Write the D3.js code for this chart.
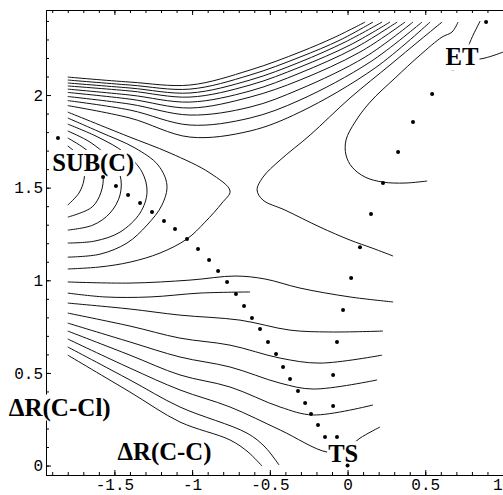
<!DOCTYPE html>
<html><head><meta charset="utf-8">
<script src="https://cdn.jsdelivr.net/npm/d3@7"></script>
<style>html,body{margin:0;padding:0;background:#fff;} svg{display:block;}</style>
</head><body>
<svg id="c" width="503" height="495"></svg>
<script>
// ---------- axis ticks ----------
const xTicks = [-1.5, -1, -0.5, 0, 0.5, 1];
const xTickLabels = ["-1.5", "-1", "-0.5", "0", "0.5", "1"];
const yTicks = [0, 0.5, 1, 1.5, 2];
const yTickLabels = ["0", "0.5", "1", "1.5", "2"];

// ---------- reaction path points ----------
const pathToSub = [[-1.863,1.768],[-1.573,1.557],[-1.490,1.509],[-1.412,1.460],[-1.335,1.417],[-1.258,1.368],[-1.181,1.320],[-1.110,1.277],[-1.033,1.223],[-0.962,1.169],[-0.891,1.109],[-0.833,1.050],[-0.775,0.991],[-0.718,0.926],[-0.666,0.861],[-0.615,0.796],[-0.563,0.737],[-0.512,0.667],[-0.460,0.602],[-0.415,0.532],[-0.370,0.467],[-0.319,0.402],[-0.273,0.337],[-0.235,0.278],[-0.190,0.219],[-0.145,0.154]];
const pathToEt = [[-0.068,0.154],[-0.093,0.321],[-0.093,0.489],[-0.068,0.667],[-0.029,0.839],[0.023,1.012],[0.080,1.179],[0.151,1.358],[0.228,1.525],[0.325,1.692],[0.421,1.854],[0.544,2.005],[0.891,2.394]];
const tsPoint = [[0, 0]];

// ---------- contour lines ----------
const contoursUpper = [
 [[-1.80,2.097],[-1.40,2.070],[-1.014,2.054],[-0.627,2.135],[-0.306,2.232],[-0.080,2.313],[0.113,2.394]],
 [[-1.80,2.081],[-1.40,2.054],[-1.014,2.032],[-0.627,2.108],[-0.306,2.205],[-0.048,2.297],[0.164,2.394]],
 [[-1.80,2.065],[-1.40,2.038],[-1.014,2.011],[-0.627,2.081],[-0.306,2.178],[-0.016,2.286],[0.222,2.394]],
 [[-1.80,2.049],[-1.40,2.022],[-1.014,1.989],[-0.627,2.054],[-0.306,2.151],[0.016,2.270],[0.273,2.394]],
 [[-1.80,2.032],[-1.40,2.000],[-1.014,1.962],[-0.627,2.022],[-0.306,2.119],[0.048,2.254],[0.319,2.394]],
 [[-1.80,2.014],[-1.40,1.978],[-1.014,1.930],[-0.627,1.989],[-0.306,2.081],[0.080,2.232],[0.370,2.394]],
 [[-1.80,1.992],[-1.40,1.951],[-1.014,1.892],[-0.627,1.935],[-0.306,2.032],[0.113,2.205],[0.421,2.394]],
 [[-1.80,1.970],[-1.40,1.919],[-1.014,1.838],[-0.627,1.876],[-0.306,1.973],[0.145,2.178],[0.479,2.394]],
 [[-1.80,1.943],[-1.40,1.876],[-1.014,1.773],[-0.627,1.806],[-0.306,1.908],[0.177,2.146],[0.531,2.394]]
];
const saddleLeft = [[-1.80,1.908],[-1.419,1.779],[-1.142,1.687],[-0.885,1.579],[-0.756,1.482],[-0.808,1.417],[-0.917,1.314],[-1.033,1.223],[-1.207,1.147],[-1.400,1.098],[-1.593,1.072],[-1.80,1.061]];
const saddleRight = [[0.608,2.394],[0.467,2.297],[0.273,2.162],[0.016,1.984],[-0.241,1.784],[-0.434,1.649],[-0.544,1.557],[-0.582,1.487],[-0.544,1.433],[-0.402,1.379],[-0.177,1.287],[0.016,1.217],[0.158,1.174],[0.293,1.131]];
const etBasin = [[0.711,2.394],[0.672,2.340],[0.608,2.313],[0.467,2.216],[0.306,2.092],[0.145,1.962],[0.048,1.854],[-0.010,1.757],[-0.010,1.676],[0.029,1.611],[0.113,1.557],[0.228,1.530],[0.370,1.525],[0.512,1.536]];
const etFragments = [
 [[0.853,2.399],[0.788,2.286],[0.769,2.227],[0.827,2.194],[1.0,2.232]],
 [[0.640,2.140],[0.685,2.135]]
];
const subArcs = [
 [[-1.80,1.725],[-1.734,1.676],[-1.696,1.611],[-1.696,1.541],[-1.728,1.471],[-1.80,1.406]],
 [[-1.80,1.768],[-1.696,1.714],[-1.612,1.649],[-1.573,1.568],[-1.586,1.476],[-1.644,1.395],[-1.80,1.341]],
 [[-1.80,1.806],[-1.657,1.746],[-1.541,1.665],[-1.464,1.568],[-1.464,1.460],[-1.528,1.363],[-1.638,1.298],[-1.80,1.271]],
 [[-1.80,1.843],[-1.606,1.773],[-1.432,1.687],[-1.322,1.584],[-1.290,1.476],[-1.335,1.363],[-1.464,1.260],[-1.625,1.212],[-1.80,1.201]],
 [[-1.80,1.876],[-1.593,1.800],[-1.367,1.714],[-1.219,1.622],[-1.162,1.514],[-1.194,1.406],[-1.290,1.298],[-1.419,1.201],[-1.593,1.141],[-1.80,1.125]]
];
const midLines = [
 [[-1.80,0.991],[-1.40,0.985],[-1.014,1.001],[-0.724,1.023],[-0.531,1.007],[-0.306,0.958],[0.016,0.910],[0.293,0.883]],
 [[-1.80,0.931],[-1.560,0.910],[-1.271,0.910],[-0.949,0.931],[-0.627,0.937]]
];
const lowerLines = [
 [[-1.80,0.877],[-1.40,0.845],[-1.078,0.812],[-0.692,0.785],[-0.370,0.731],[-0.113,0.721],[0.228,0.726]],
 [[-1.80,0.823],[-1.40,0.753],[-1.078,0.688],[-0.756,0.650],[-0.434,0.580],[-0.177,0.553],[0.222,0.596]],
 [[-1.80,0.769],[-1.40,0.667],[-1.078,0.586],[-0.756,0.532],[-0.434,0.445],[-0.222,0.413],[0.190,0.462]],
 [[-1.80,0.726],[-1.40,0.596],[-1.078,0.489],[-0.756,0.424],[-0.434,0.316],[-0.222,0.273],[0.164,0.327]],
 [[-1.80,0.683],[-1.40,0.526],[-1.078,0.408],[-0.756,0.316],[-0.434,0.192],[-0.132,0.073],[-0.016,0.084],[0.080,0.148],[0.209,0.208]],
 [[-1.80,0.640],[-1.40,0.462],[-1.078,0.316],[-0.647,0.175],[-0.531,0.100],[-0.441,0.003]],
 [[-1.80,0.596],[-1.40,0.397],[-1.078,0.235],[-0.756,0.138],[-0.640,0.073],[-0.550,-0.003]]
];

// ---------- labels ----------
const labelTexts = ["SUB(C)", "ET", "TS", "ΔR(C-Cl)", "ΔR(C-C)"];
const labelAnchors = [[-1.90, 1.59], [0.63, 2.16], [-0.125, 0.018], [-2.18, 0.27], [-1.48, 0.03]];
const labelWidths = [82, 33, 30, 102, 94];

// ---------- drawing ----------
const svg = d3.select("#c");
const x = d3.scaleLinear().domain([-1.94, 1.0]).range([46, 503]);
const y = d3.scaleLinear().domain([-0.051, 2.459]).range([475, 10]);
const line = d3.line().x(d => x(d[0])).y(d => y(d[1])).curve(d3.curveCatmullRom.alpha(0.5));

const allContours = [].concat(contoursUpper, [saddleLeft, saddleRight, etBasin], etFragments, subArcs, midLines, lowerLines);
svg.append("g").selectAll("path").data(allContours).join("path")
  .attr("d", line).attr("fill", "none").attr("stroke", "#111").attr("stroke-width", 1);

// axes
const xMinor = d3.range(-1.9, 1.001, 0.1).map(v => +v.toFixed(2));
const yMinor = d3.range(0, 2.45, 0.1).map(v => +v.toFixed(2));
function styleAxis(g) {
  g.selectAll("path.domain").attr("stroke", "#000").attr("stroke-width", 1);
  g.selectAll(".tick line").attr("stroke", "#000");
  g.selectAll("text").attr("font-family", "'Liberation Mono', monospace").attr("font-size", 16).attr("fill", "#000");
}
const gb = svg.append("g").attr("transform", "translate(0,475)");
gb.call(d3.axisBottom(x).tickValues(xMinor).tickSizeInner(-3).tickSizeOuter(0).tickFormat(""));
gb.call(styleAxis);
const gb2 = svg.append("g").attr("transform", "translate(0,475)");
gb2.call(d3.axisBottom(x).tickValues(xTicks).tickSizeInner(-5).tickSizeOuter(0).tickPadding(3.6)
  .tickFormat((d, i) => xTickLabels[i]));
gb2.call(styleAxis);
// the last label sits at the window edge: keep it fully inside
gb2.selectAll(".tick text").filter(d => d === 1).attr("text-anchor", "end").attr("dx", -1);

const gt = svg.append("g").attr("transform", "translate(0,10)");
gt.call(d3.axisTop(x).tickValues(xMinor).tickSizeInner(-3).tickSizeOuter(0).tickFormat(""));
gt.call(styleAxis);
const gt2 = svg.append("g").attr("transform", "translate(0,10)");
gt2.call(d3.axisTop(x).tickValues(xTicks).tickSizeInner(-5).tickSizeOuter(0).tickFormat(""));
gt2.call(styleAxis);

const gl = svg.append("g").attr("transform", "translate(46,0)");
gl.call(d3.axisLeft(y).tickValues(yMinor).tickSizeInner(-3).tickSizeOuter(0).tickFormat(""));
gl.call(styleAxis);
const gl2 = svg.append("g").attr("transform", "translate(46,0)");
gl2.call(d3.axisLeft(y).tickValues(yTicks).tickSizeInner(-5).tickSizeOuter(0).tickPadding(3)
  .tickFormat((d, i) => yTickLabels[i]));
gl2.call(styleAxis);

// labels with white backgrounds
const lg = svg.append("g");
labelTexts.forEach((t, i) => {
  const g = lg.append("g");
  const rect = g.append("rect").attr("fill", "#fff");
  const txt = g.append("text")
    .attr("x", x(labelAnchors[i][0])).attr("y", y(labelAnchors[i][1]))
    .attr("font-family", "'Liberation Serif', 'Times New Roman', serif")
    .attr("font-weight", "bold").attr("font-size", 26)
    .attr("textLength", labelWidths[i]).attr("lengthAdjust", "spacingAndGlyphs")
    .attr("fill", "#000").text(t);
  const bb = txt.node().getBBox();
  rect.attr("x", bb.x - 1).attr("y", bb.y + 2).attr("width", bb.width + 2).attr("height", bb.height - 3);
});

// dots
svg.append("g").selectAll("circle").data([].concat(pathToSub, pathToEt, tsPoint)).join("circle")
  .attr("cx", d => x(d[0])).attr("cy", d => y(d[1])).attr("r", 2).attr("fill", "#000");
</script>
</body></html>
